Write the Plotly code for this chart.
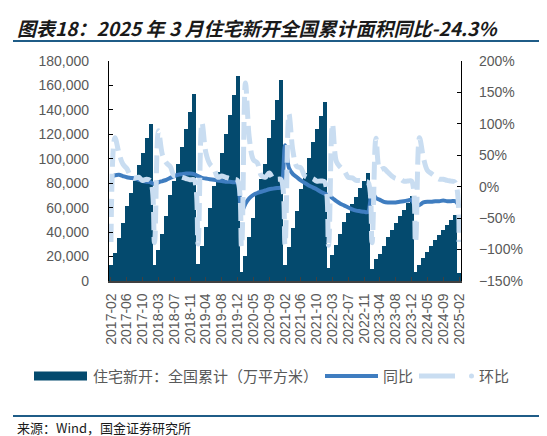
import plotly.graph_objects as go

# monthly (Jan+Feb merged), 2017-02 .. 2025-02
months = ["02", "03", "04", "05", "06", "07", "08", "09", "10", "11", "12"]
dates = [f"{y}-{m}" for y in range(2017, 2025) for m in months] + ["2025-02"]

# 住宅新开工面积 全国累计 (万平方米)
starts_2017 = [12800, 22800, 35000, 47500, 61500, 71700, 82000, 94700, 104500, 117300, 128100]
starts_2018 = [13500, 25500, 38500, 53000, 70000, 82000, 96000, 110000, 124000, 138000, 153400]
starts_2019 = [14100, 28500, 44000, 60000, 77500, 89500, 104500, 120000, 135500, 152000, 167500]
starts_2020 = [7700, 20400, 36000, 51500, 71000, 83700, 96000, 117000, 132000, 148000, 164300]
starts_2021 = [12800, 27700, 43500, 57500, 75000, 88000, 100500, 114000, 124000, 135000, 146400]
starts_2022 = [10500, 21000, 29500, 38500, 48300, 55500, 63000, 69000, 76000, 82000, 88100]
starts_2023 = [10000, 17700, 22500, 29000, 35800, 42000, 47500, 53500, 58500, 63800, 69300]
starts_2024 = [7300, 13000, 19000, 24000, 29000, 33500, 37500, 42000, 46000, 50000, 53700]
starts_2025 = [6600]

# 同比 (%)
yoy_2017 = [15, 18, 19, 17, 15, 14, 13, 11, 9, 8, 7]
yoy_2018 = [4, 7, 9, 11, 14, 17, 19, 20, 21, 21, 20]
yoy_2019 = [17, 14, 13, 12, 11, 10, 9, 8, 8, 7, 7]
yoy_2020 = [-40, -27, -18, -13, -10, -8, -6, -4, -3, -2, -1]
yoy_2021 = [66, 30, 20, 15, 10, 6, 2, -1, -4, -8, -11]
yoy_2022 = [-14, -18, -23, -27, -30, -33, -36, -38, -39, -40, -40]
yoy_2023 = [-9, -18, -21, -24, -25, -25, -25, -24, -23, -22, -21]
yoy_2024 = [-31, -29, -25, -24, -24, -23, -23, -22, -23, -23, -23]
yoy_2025 = [-30]

# 环比 (%)
mom_2017 = [-88, 78, 54, 36, 29, 17, 14, 15, 10, 12, 9]
mom_2018 = [-89, 89, 51, 38, 32, 17, 17, 15, 13, 11, 11]
mom_2019 = [-91, 102, 54, 36, 29, 15, 17, 15, 13, 12, 10]
mom_2020 = [-95, 165, 76, 43, 38, 18, 15, 22, 13, 12, 11]
mom_2021 = [-92, 116, 57, 32, 30, 17, 14, 13, 9, 9, 8]
mom_2022 = [-93, 100, 40, 31, 25, 15, 14, 10, 10, 8, 7]
mom_2023 = [-89, 77, 27, 29, 23, 17, 13, 13, 9, 9, 9]
mom_2024 = [-89, 78, 46, 26, 21, 16, 12, 12, 10, 9, 7]
mom_2025 = [-88]

starts = (starts_2017 + starts_2018 + starts_2019 + starts_2020 + starts_2021
          + starts_2022 + starts_2023 + starts_2024 + starts_2025)
yoy = (yoy_2017 + yoy_2018 + yoy_2019 + yoy_2020 + yoy_2021
       + yoy_2022 + yoy_2023 + yoy_2024 + yoy_2025)
mom = (mom_2017 + mom_2018 + mom_2019 + mom_2020 + mom_2021
       + mom_2022 + mom_2023 + mom_2024 + mom_2025)

W, H = 547, 436
L, R, T, B = 101, 453, 53, 273


def px(x):
    return (x - L) / (R - L)


def py(y):
    return (B - y) / (B - T)


BAR_C = "#044A6E"
YOY_C = "#3F7DC0"
MOM_C = "#C9DDF1"
FONT = "Liberation Sans, Arial, Noto Sans CJK SC"
GRAY = "#595959"

fig = go.Figure()
fig.add_trace(go.Bar(x=dates, y=starts, marker_color=BAR_C, marker_line_width=0,
                     name="住宅新开：全国累计（万平方米）"))
fig.add_trace(go.Scatter(x=dates, y=yoy, yaxis="y2", mode="lines", name="同比",
                         line=dict(color=YOY_C, width=4, shape="spline", smoothing=0.8)))
fig.add_trace(go.Scatter(x=dates, y=mom, yaxis="y2", mode="lines", name="环比",
                         line=dict(color=MOM_C, width=5, dash="18px,7px",
                                   shape="spline", smoothing=1)))

fig.update_layout(
    width=W, height=H,
    margin=dict(l=L, r=W - R, t=T, b=H - B),
    paper_bgcolor="white", plot_bgcolor="white",
    showlegend=False, bargap=0.0,
    font=dict(family=FONT, size=14, color=GRAY),
    xaxis=dict(type="category", tickmode="array", tickvals=dates[::4],
               tickangle=-90, range=[-0.5, len(dates) - 0.5],
               showline=True, linecolor="#404040", linewidth=1.5,
               ticks="inside", ticklen=4, tickcolor="#404040", ticklabelstandoff=5,
               tickfont=dict(size=14, color=GRAY), showgrid=False),
    yaxis=dict(range=[0, 180000], dtick=20000, tickformat=",",
               showline=True, linecolor="black", linewidth=1.2,
               ticks="inside", ticklen=4, tickcolor="black", ticklabelstandoff=16,
               showgrid=False, zeroline=False, tickfont=dict(size=14, color=GRAY)),
    yaxis2=dict(range=[-150, 200], dtick=50, ticksuffix="%", overlaying="y", side="right",
                showline=True, linecolor="black", linewidth=1.2,
                ticks="inside", ticklen=4, tickcolor="black", ticklabelstandoff=14,
                showgrid=False, zeroline=False, tickfont=dict(size=14, color=GRAY)),
)

shapes = [
    # title rule and footer rule
    dict(type="line", xref="paper", yref="paper", x0=px(5), x1=px(540), y0=py(33), y1=py(33),
         line=dict(color="#1F5C87", width=2)),
    dict(type="line", xref="paper", yref="paper", x0=px(5), x1=px(540), y0=py(408), y1=py(408),
         line=dict(color="#1F5C87", width=2)),
    # legend swatches
    dict(type="rect", xref="paper", yref="paper", x0=px(26), x1=px(79), y0=py(372.5), y1=py(363.5),
         fillcolor=BAR_C, line=dict(width=0)),
    dict(type="line", xref="paper", yref="paper", x0=px(317), x1=px(370), y0=py(368), y1=py(368),
         line=dict(color=YOY_C, width=4)),
    dict(type="line", xref="paper", yref="paper", x0=px(411), x1=px(447), y0=py(368), y1=py(368),
         line=dict(color=MOM_C, width=5)),
    dict(type="circle", xref="paper", yref="paper", x0=px(461), x1=px(466), y0=py(370.5), y1=py(365.5),
         fillcolor=MOM_C, line=dict(width=0)),
]
fig.update_layout(shapes=shapes)

ann = [
    dict(text="图表18：2025 年 3 月住宅新开全国累计面积同比-24.3%", x=px(7), y=py(19),
         font=dict(family="Noto Sans CJK SC", size=19, color="#1a1a1a", weight="bold", style="italic")),
    dict(text="住宅新开：全国累计（万平方米）", x=px(83), y=py(368),
         font=dict(family=FONT, size=15, color=GRAY)),
    dict(text="同比", x=px(373), y=py(368), font=dict(family=FONT, size=15, color=GRAY)),
    dict(text="环比", x=px(469), y=py(368), font=dict(family=FONT, size=15, color=GRAY)),
    dict(text="来源：Wind，国金证券研究所", x=px(7), y=py(419),
         font=dict(family="Noto Sans CJK SC", size=13, color="#1a1a1a")),
]
for a in ann:
    fig.add_annotation(xref="paper", yref="paper", xanchor="left", yanchor="middle",
                       showarrow=False, **a)

fig.write_html("out.html")
